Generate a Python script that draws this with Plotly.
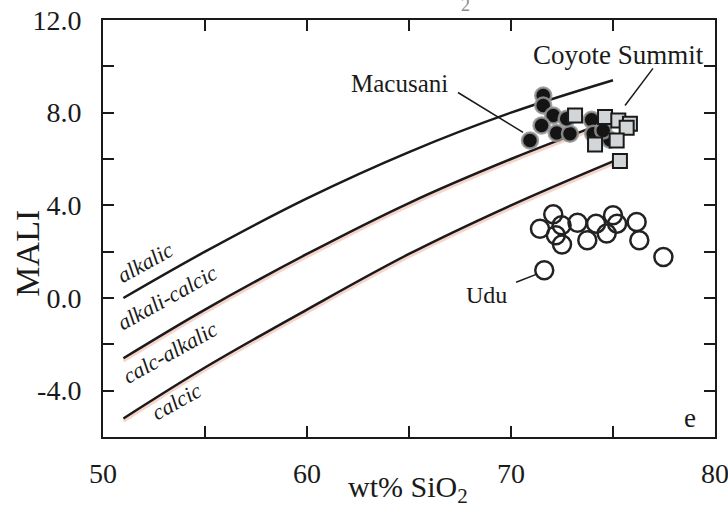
import plotly.graph_objects as go

# Field boundaries of the MALI diagram (MALI vs. wt% SiO2)
SIO2_GRID = [51, 55, 60, 65, 70, 75]
ALKALIC_BOUND = [0.0, 2.0, 4.3, 6.3, 8.0, 9.4]        # alkalic / alkali-calcic
CALC_ALKALIC_BOUND = [-2.6, -0.5, 1.9, 4.1, 6.0, 7.7]  # alkali-calcic / calc-alkalic
CALCIC_BOUND = [-5.2, -3.0, -0.5, 1.9, 4.0, 5.9]       # calc-alkalic / calcic

# Sample groups
MACUSANI_SIO2 = [71.58, 71.58, 72.07, 71.50, 70.93, 72.24, 72.89, 72.73, 73.95, 74.03, 74.85, 74.52]
MACUSANI_MALI = [8.74, 8.31, 7.88, 7.45, 6.80, 7.12, 7.09, 7.74, 7.69, 7.09, 6.83, 7.23]

COYOTE_SIO2 = [73.14, 74.61, 75.26, 75.83, 75.67, 74.12, 75.18, 75.34]
COYOTE_MALI = [7.88, 7.81, 7.66, 7.52, 7.35, 6.63, 6.80, 5.91]

UDU_SIO2 = [72.07, 71.42, 72.48, 72.20, 72.50, 73.26, 73.74, 74.17, 74.69, 75.00, 75.20,
            76.16, 76.29, 77.47, 71.63]
UDU_MALI = [3.61, 2.99, 3.14, 2.71, 2.31, 3.25, 2.49, 3.21, 2.78, 3.57, 3.21,
            3.28, 2.49, 1.77, 1.20]

X_TICKS = [50, 55, 60, 65, 70, 75, 80]
X_TICK_TEXT = ["50", "", "60", "", "70", "", "80"]
Y_TICKS = [-6, -4, -2, 0, 2, 4, 6, 8, 10, 12]
Y_TICK_TEXT = ["", "-4.0", "", "0.0", "", "4.0", "", "8.0", "", "12.0"]

SERIF = "Liberation Serif"
INK = "#1a1a1a"

fig = go.Figure()

# faint reddish fringe under the two lower boundaries
for bound in (CALC_ALKALIC_BOUND, CALCIC_BOUND):
    fig.add_trace(go.Scatter(
        x=SIO2_GRID, y=[v - 0.12 for v in bound], mode="lines",
        line=dict(color="rgba(238,160,135,0.45)", width=3, shape="spline"),
        hoverinfo="skip", showlegend=False))

for bound in (ALKALIC_BOUND, CALC_ALKALIC_BOUND, CALCIC_BOUND):
    fig.add_trace(go.Scatter(
        x=SIO2_GRID, y=bound, mode="lines",
        line=dict(color=INK, width=2.5, shape="spline"),
        showlegend=False))

fig.add_trace(go.Scatter(
    x=UDU_SIO2, y=UDU_MALI, mode="markers", name="Udu",
    marker=dict(symbol="circle-open", size=18, color="#222222",
                line=dict(width=2.5, color="#222222")),
    showlegend=False))

fig.add_trace(go.Scatter(
    x=MACUSANI_SIO2, y=MACUSANI_MALI, mode="markers", name="Macusani",
    marker=dict(symbol="circle", size=16, color="#141414",
                line=dict(width=2.5, color="rgba(150,150,150,0.85)")),
    showlegend=False))

fig.add_trace(go.Scatter(
    x=COYOTE_SIO2, y=COYOTE_MALI, mode="markers", name="Coyote Summit",
    marker=dict(symbol="square", size=14, color="#d3d6d9",
                line=dict(width=2, color=INK)),
    showlegend=False))

# leader lines from the group names to their samples
leaders = [
    ((67.40, 8.87), (70.59, 7.15)),   # Macusani
    ((76.96, 9.91), (75.59, 8.31)),   # Coyote Summit
    ((70.25, 0.68), (71.27, 1.03)),   # Udu
]
for (x0, y0), (x1, y1) in leaders:
    fig.add_shape(type="line", x0=x0, y0=y0, x1=x1, y1=y1, xref="x", yref="y",
                  line=dict(color=INK, width=1.5))

def label(text, x, y, size, color=INK, **kw):
    fig.add_annotation(text=text, x=x, y=y, showarrow=False,
                       xanchor="center", yanchor="middle",
                       font=dict(family=SERIF, size=size, color=color), **kw)

label("Macusani", 64.51, 9.25, 25)
label("Coyote Summit", 75.25, 10.5, 27)
label("Udu", 68.8, 0.12, 24)

# field names along the boundaries
for text, x, y in [("alkalic", 52.06, 1.54), ("alkali-calcic", 53.14, 0.03),
                   ("calc-alkalic", 53.28, -2.34), ("calcic", 53.58, -4.45)]:
    label("<i>" + text + "</i>", x, y, 22, textangle=-29)

# panel letter and axis titles
label("e", 0.959, 0.046, 27, xref="paper", yref="paper")
label("MALI", -0.124, 0.44, 34, xref="paper", yref="paper", textangle=-90)
label("wt% SiO<sub>2</sub>", 0.498, -0.125, 30, xref="paper", yref="paper")
label("2", 0.592, 1.036, 18, color="#8a8a8a", xref="paper", yref="paper")

axis_common = dict(showgrid=False, zeroline=False, showline=True, linecolor=INK,
                   linewidth=2, ticks="inside", ticklen=11, tickwidth=2,
                   tickcolor=INK, mirror="allticks", ticklabeloverflow="allow",
                   tickfont=dict(family=SERIF, size=28, color=INK))

fig.update_xaxes(range=[50, 80], tickmode="array", tickvals=X_TICKS,
                 ticktext=X_TICK_TEXT, ticklabelstandoff=10, **axis_common)
fig.update_yaxes(range=[-6, 12], tickmode="array", tickvals=Y_TICKS,
                 ticktext=Y_TICK_TEXT, ticklabelstandoff=14, **axis_common)

fig.update_layout(
    width=728, height=513,
    margin=dict(l=103, r=13, t=20, b=76, autoexpand=False),
    paper_bgcolor="white", plot_bgcolor="white",
    showlegend=False,
)

fig.write_html("out.html")
